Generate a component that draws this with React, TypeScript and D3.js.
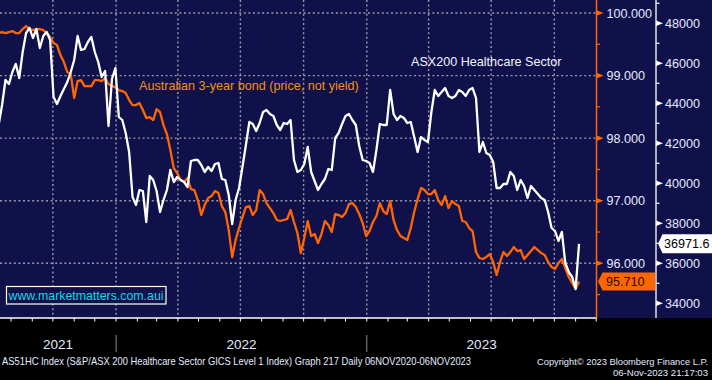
import React from "react";
import * as d3 from "d3";

// ---------- data ----------
const seriesEnd = new Date(2023, 10, 6);
const stepDays = 5;

const healthcareValues = [
  42915, 43915, 45165, 44965, 45565, 45965, 45265, 46565, 47515, 47765,
  47265, 47715, 46765, 47365, 47565, 47165, 44315, 43965, 44365, 44715,
  45065, 45565, 46165, 47365, 46665, 46715, 47065, 47315, 46565, 46065,
  45315, 45615, 42865, 45215, 45765, 43315, 43165, 42515, 41565, 39315,
  38915, 39665, 39615, 38065, 40365, 40165, 39615, 38565, 39165, 39665,
  40665, 40065, 40315, 40165, 40065, 39815, 41115, 41165, 41165, 40915,
  40565, 40815, 40615, 40965, 41015, 40215, 40165, 39415, 37965, 39165,
  39765, 40815, 41915, 43065, 42965, 42615, 43015, 43565, 43665, 43465,
  43365, 42915, 42665, 43015, 42965, 43165, 41165, 40565, 40665, 40965,
  41815, 40565, 40115, 39665, 39965, 40215, 40715, 40665, 42265, 42515,
  42965, 43365, 43465, 43165, 42915, 41865, 41165, 41115, 41015, 40565,
  41665, 42965, 42915, 42915, 44665, 43465, 43165, 43365, 43265, 43015,
  43065, 42315, 41565, 42315, 42165, 42065, 43565, 44665, 44365, 44565,
  44765, 44365, 44265, 44365, 44665, 44565, 44365, 44665, 44765, 44265,
  41565, 42065, 41515, 41415, 41065, 39765, 39765, 39965, 39965, 40565,
  40365, 39665, 40165, 39865, 39265, 39865, 39665, 39465, 39265, 39165,
  38565, 37765, 37615, 37115, 37565, 36015, 35565, 35315, 34715, 36971.6,
];

const bondValues = [
  99.679, 99.695, 99.679, 99.695, 99.711, 99.679, 99.679, 99.743, 99.791, 99.743,
  99.727, 99.743, 99.743, 99.727, 99.679, 99.615, 99.519, 99.487, 99.327, 99.216,
  99.056, 99.024, 98.641, 98.912, 98.928, 98.832, 98.832, 98.832, 98.928, 98.928,
  98.912, 98.96, 98.864, 98.832, 98.816, 98.768, 98.752, 98.72, 98.609, 98.529,
  98.529, 98.561, 98.449, 98.321, 98.337, 98.289, 98.465, 98.417, 98.209, 98.065,
  97.81, 97.522, 97.442, 97.331, 97.299, 97.363, 97.187, 97.171, 97.011, 96.771,
  96.931, 97.043, 97.075, 97.155, 97.123, 96.915, 96.819, 96.532, 96.101, 96.372,
  96.564, 96.74, 96.899, 96.915, 96.771, 96.851, 97.171, 97.107, 96.963, 96.883,
  96.803, 96.692, 96.676, 96.692, 96.708, 96.851, 96.66, 96.484, 96.164, 96.404,
  96.676, 96.436, 96.468, 96.324, 96.468, 96.676, 96.612, 96.5, 96.787, 96.771,
  96.74, 96.803, 96.947, 96.963, 96.899, 96.787, 96.644, 96.436, 96.516, 96.66,
  96.756, 96.963, 96.835, 96.787, 96.995, 96.692, 96.532, 96.436, 96.404, 96.372,
  96.564, 96.819, 97.027, 97.203, 97.171, 97.107, 97.107, 97.171, 97.011, 96.931,
  97.075, 96.883, 96.995, 96.947, 96.915, 96.676, 96.66, 96.564, 96.516, 96.18,
  96.085, 96.069, 96.101, 96.148, 96.021, 95.813, 96.021, 96.18, 96.117, 96.18,
  96.26, 96.196, 96.212, 96.069, 96.133, 96.196, 96.26, 96.212, 96.164, 96.133,
  96.021, 95.941, 95.909, 96.005, 96.069, 95.925, 95.781, 95.685, 95.589, 95.71,
];

const bondTicks = [96, 97, 98, 99, 100];
const bondMinorTicks = [95.5, 96.5, 97.5, 98.5, 99.5];
const healthTicks = [34000, 36000, 38000, 40000, 42000, 44000, 46000, 48000];
const healthMinorTicks = [35000, 37000, 39000, 41000, 43000, 45000, 47000, 49000];
const yearLabels = ["2021", "2022", "2023"];

const bondLabel = "Australian 3-year bond (price, not yield)";
const healthLabel = "ASX200 Healthcare Sector";
const siteLabel = "www.marketmatters.com.aui";
const footerLeft =
  "AS51HC Index (S&P/ASX 200 Healthcare Sector GICS Level 1 Index) Graph 217  Daily 06NOV2020-06NOV2023";
const footerRight1 = "Copyright\u00A9 2023 Bloomberg Finance L.P.";
const footerRight2 = "06-Nov-2023 21:17:03";

// ---------- layout ----------
const W = 712;
const H = 380;
const plotRight = 596.5;
const plotBottom = 318;
const whiteAxisX = 656;

const NAVY = "#10104a";
const ORANGE = "#ff6600";
const LABEL = "#e4ebff";
const GRID = "#9a9aa8";
const FONT = "'Liberation Sans', Arial, sans-serif";

export default function App() {
  const n = healthcareValues.length;
  const dates = d3.range(n).map((i) => d3.timeDay.offset(seriesEnd, -(n - 1 - i) * stepDays));

  const x = d3
    .scaleTime()
    .domain([new Date(2021, 6, 16), new Date(2023, 11, 1, 10)])
    .range([0, plotRight]);
  const yBond = d3.scaleLinear().domain([95.142, 100.208]).range([317, 0]);
  const yHealth = d3.scaleLinear().domain([33315, 49165]).range([317, 0]);

  const bondLine = d3
    .line<number>()
    .x((_, i) => x(dates[i]))
    .y((d) => yBond(d));
  const healthLine = d3
    .line<number>()
    .x((_, i) => x(dates[i]))
    .y((d) => yHealth(d));

  const quarterTicks = x.ticks(d3.timeMonth.every(3)!);
  const monthTicks = x.ticks(d3.timeMonth.every(1)!);
  const yearStarts = x.ticks(d3.timeYear.every(1)!);
  const [d0, d1] = x.domain();
  const bounds = [d0, ...yearStarts, d1];

  const lastH = healthcareValues[n - 1];
  const lastB = bondValues[n - 1];
  const yH = yHealth(lastH);
  const yB = yBond(lastB);

  return (
    <svg
      width={W}
      height={H}
      style={{ position: "absolute", left: 0, top: 0, display: "block" }}
      fontFamily={FONT}
    >
      <rect x={0} y={0} width={W} height={H} fill="#000" />
      <rect x={0} y={0} width={W} height={plotBottom} fill={NAVY} />

      {/* grid */}
      <g stroke={GRID} strokeWidth={1.4} strokeDasharray="2,2.6" fill="none">
        {bondTicks.map((t) => (
          <line key={"h" + t} x1={0} x2={plotRight} y1={yBond(t)} y2={yBond(t)} />
        ))}
        {quarterTicks.map((d) => (
          <line key={"v" + d.getTime()} x1={x(d)} x2={x(d)} y1={0} y2={plotBottom} />
        ))}
      </g>

      {/* series */}
      <clipPath id="plotClip">
        <rect x={0} y={0} width={plotRight} height={plotBottom} />
      </clipPath>
      <g clipPath="url(#plotClip)" fill="none" strokeLinejoin="round">
        <path d={bondLine(bondValues) || ""} stroke={ORANGE} strokeWidth={2.3} />
        <path d={healthLine(healthcareValues) || ""} stroke="#ffffff" strokeWidth={2.3} />
      </g>

      {/* annotations */}
      <text x={139} y={89.5} fill="#f0901a" fontSize={12.6}>
        {bondLabel}
      </text>
      <text x={411} y={66} fill="#f4f6ff" fontSize={12.6}>
        {healthLabel}
      </text>
      <rect x={6.5} y={286.5} width={159.5} height={17.5} fill={NAVY} stroke="#ffffff" strokeWidth={1.2} />
      <text x={8.5} y={300} fill="#19d6e8" fontSize={13} textLength={155} lengthAdjust="spacingAndGlyphs">
        {siteLabel}
      </text>

      {/* bottom axis */}
      <line x1={0} x2={plotRight} y1={plotBottom} y2={plotBottom} stroke="#ffffff" strokeWidth={1.3} />
      {monthTicks.map((d) => (
        <line key={"m" + d.getTime()} x1={x(d)} x2={x(d)} y1={plotBottom} y2={plotBottom + 3.5} stroke="#ffffff" strokeWidth={1} />
      ))}
      {yearStarts.map((d) => (
        <line key={"ys" + d.getTime()} x1={x(d)} x2={x(d)} y1={335} y2={352} stroke="#8a8a8a" strokeWidth={1} />
      ))}
      {yearLabels.map((lab, i) => (
        <text
          key={lab}
          x={(x(bounds[i]) + x(bounds[i + 1])) / 2}
          y={348.5}
          fill={LABEL}
          fontSize={13.5}
          textAnchor="middle"
        >
          {lab}
        </text>
      ))}

      {/* orange axis */}
      <line x1={plotRight} x2={plotRight} y1={0} y2={plotBottom} stroke={ORANGE} strokeWidth={1.5} />
      {bondMinorTicks.map((t) => (
        <line key={"bm" + t} x1={plotRight} x2={plotRight + 3.5} y1={yBond(t)} y2={yBond(t)} stroke={ORANGE} strokeWidth={1.2} />
      ))}
      {bondTicks.map((t) => (
        <g key={"bt" + t}>
          <path
            d={`M${plotRight},${yBond(t) - 2.8}L${plotRight + 7},${yBond(t)}L${plotRight},${yBond(t) + 2.8}Z`}
            fill={ORANGE}
          />
          <text x={606.5} y={yBond(t) + 4.5} fill={LABEL} fontSize={12.6}>
            {d3.format(".3f")(t)}
          </text>
        </g>
      ))}

      {/* white axis */}
      <line x1={whiteAxisX} x2={whiteAxisX} y1={0} y2={plotBottom} stroke="#ffffff" strokeWidth={1.3} />
      {healthMinorTicks.map((t) => (
        <line key={"hm" + t} x1={whiteAxisX} x2={whiteAxisX + 3.5} y1={yHealth(t)} y2={yHealth(t)} stroke="#ffffff" strokeWidth={1.2} />
      ))}
      {healthTicks.map((t) => (
        <g key={"ht" + t}>
          <path
            d={`M${whiteAxisX},${yHealth(t) - 2.8}L${whiteAxisX + 7},${yHealth(t)}L${whiteAxisX},${yHealth(t) + 2.8}Z`}
            fill="#ffffff"
          />
          <text x={665} y={yHealth(t) + 4.5} fill={LABEL} fontSize={12.6}>
            {t}
          </text>
        </g>
      ))}

      {/* last value tags */}
      <path
        d={`M${whiteAxisX + 2},${yH}L${whiteAxisX + 6.5},${yH - 9.5}L${W},${yH - 9.5}L${W},${yH + 9.5}L${whiteAxisX + 6.5},${yH + 9.5}Z`}
        fill="#ffffff"
      />
      <text x={664} y={yH + 4.5} fill="#000" fontSize={12.6}>
        {d3.format(".1f")(lastH)}
      </text>
      <path
        d={`M${plotRight + 1.5},${yB}L${plotRight + 6},${yB - 9}L${whiteAxisX - 1},${yB - 9}L${whiteAxisX - 1},${yB + 9}L${plotRight + 6},${yB + 9}Z`}
        fill={ORANGE}
      />
      <text x={606} y={yB + 4.5} fill="#1a0a00" fontSize={12.6}>
        {d3.format(".3f")(lastB)}
      </text>

      {/* footer */}
      <text x={2} y={364.5} fill={LABEL} fontSize={10.5} textLength={469} lengthAdjust="spacingAndGlyphs">
        {footerLeft}
      </text>
      <text x={537} y={364.5} fill={LABEL} fontSize={9.3} textLength={171} lengthAdjust="spacingAndGlyphs">
        {footerRight1}
      </text>
      <text x={613} y={376} fill={LABEL} fontSize={9.6} textLength={95} lengthAdjust="spacingAndGlyphs">
        {footerRight2}
      </text>
    </svg>
  );
}
